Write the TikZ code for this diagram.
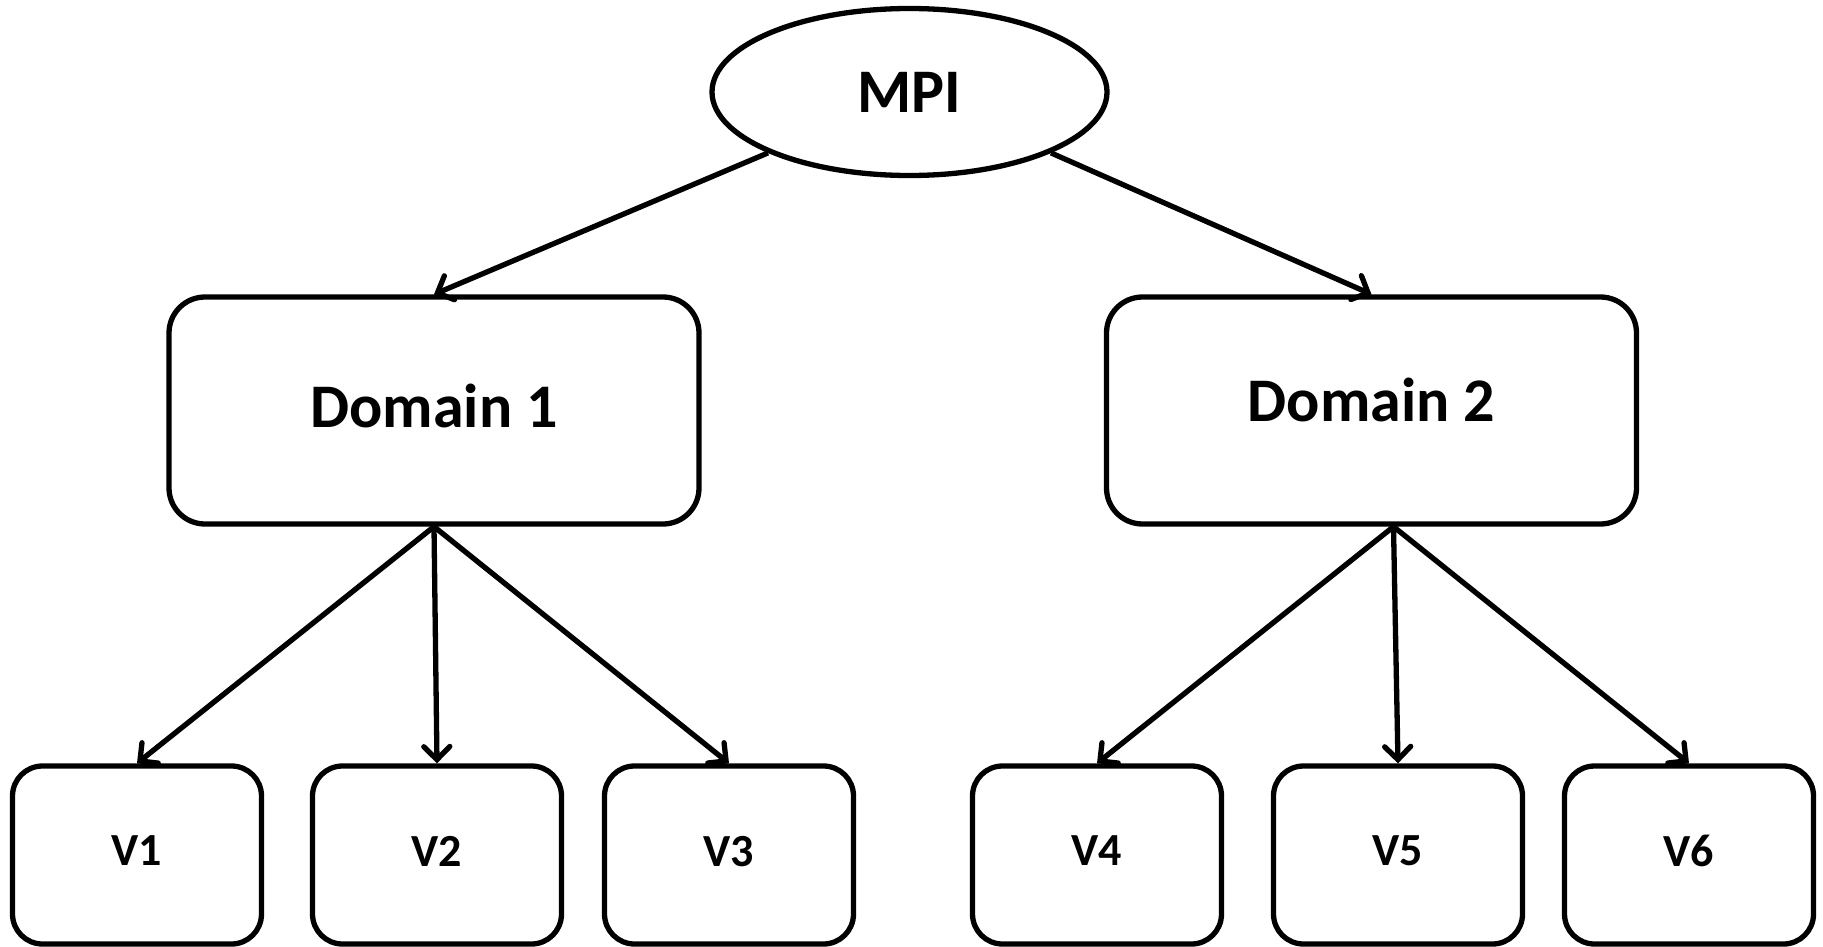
\documentclass[tikz,border=0pt]{standalone}
\usepackage{fontspec}
\setmainfont{Carlito}
\usetikzlibrary{arrows.meta,shapes.geometric,calc}

\tikzset{
  every node/.style={font=\bfseries},
  rootnode/.style={draw, ellipse, line width=5.3pt, minimum width=395pt, minimum height=167pt,
    inner sep=0pt, font=\bfseries\fontsize{62}{70}\selectfont},
  domainbox/.style={draw, rounded corners=36pt, line width=5.3pt, minimum width=530pt,
    minimum height=227pt, inner sep=0pt, font=\bfseries\fontsize{62}{70}\selectfont},
  leafbox/.style={draw, rounded corners=30pt, line width=5.3pt, minimum width=249pt,
    minimum height=178pt, inner sep=0pt, text depth=8pt,
    font=\bfseries\fontsize{46}{54}\selectfont},
  link/.style={line width=5.3pt, -{Straight Barb[length=13pt,width=26pt,line cap=round]}},
}

\begin{document}
\begin{tikzpicture}[x=1pt, y=-1pt]
  \useasboundingbox (0,0) rectangle (1823,947);

  % root of the hierarchy
  \node[rootnode] (mpi) at (909.5,92) {MPI};

  % the two domains
  \node[domainbox, text depth=10pt] (d1) at (434,410.5) {Domain 1};
  \node[domainbox, text depth=22pt] (d2) at (1371.5,410.5) {Domain 2};

  % leaves
  \node[leafbox] (v1) at (137,855) {V1};
  \node[leafbox] (v2) at (437,855) {V2};
  \node[leafbox] (v3) at (729,855) {V3};
  \node[leafbox] (v4) at (1097,855) {V4};
  \node[leafbox] (v5) at (1398,855) {V5};
  \node[leafbox] (v6) at (1689,855) {V6};

  % fan-out points under each domain
  \coordinate (f1) at (d1.south);
  \coordinate (f2) at ($(d2.south)+(22,0)$);

  % connectors
  \draw[link] (mpi.south west) -- (d1.north);
  \draw[link] (mpi.south east) -- (d2.north);

  \draw[link] (f1) -- (v1.north);
  \draw[link] (f1) -- (v2.north);
  \draw[link] (f1) -- (v3.north);

  \draw[link] (f2) -- (v4.north);
  \draw[link] (f2) -- (v5.north);
  \draw[link] (f2) -- (v6.north);
\end{tikzpicture}
\end{document}
